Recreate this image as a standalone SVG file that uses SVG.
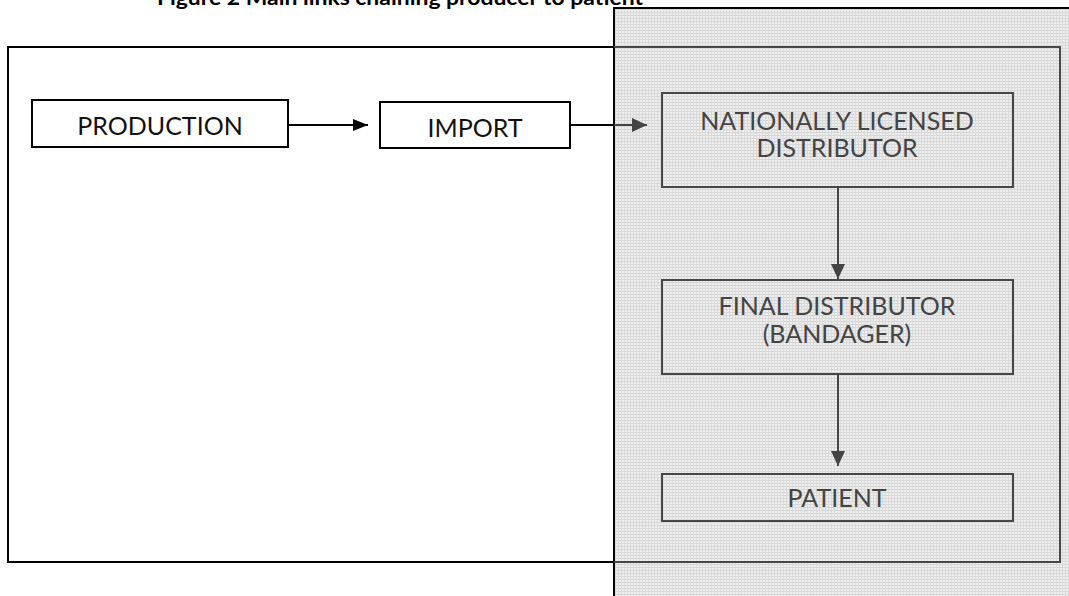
<svg xmlns="http://www.w3.org/2000/svg" width="1069" height="596" viewBox="0 0 1069 596">
<style>
.bk{fill:#fff;stroke:#000;stroke-width:2}
.gb{fill:none;stroke:#474747;stroke-width:2}
.tb{font-family:Lato,"Open Sans",sans-serif;font-size:25px;fill:#111;text-anchor:middle}
.tg{font-family:Lato,"Open Sans",sans-serif;font-size:25px;fill:#444;text-anchor:middle}
.title{font-family:Lato,"Open Sans",sans-serif;font-size:21px;font-weight:bold;fill:#000}
.cb{stroke:#000;stroke-width:2;fill:none}
.cg{stroke:#444;stroke-width:2;fill:none}
</style>
<defs>
<pattern id="dots" width="3" height="3" patternUnits="userSpaceOnUse">
<rect width="3" height="3" fill="#eeeeee"/>
<rect width="3" height="1" fill="#d6d6d6"/>
<rect width="1" height="3" fill="#dadada"/>
</pattern>
<marker id="ab" markerWidth="15" markerHeight="12" refX="15" refY="6" orient="auto" markerUnits="userSpaceOnUse">
<path d="M0,0 L15,6 L0,12 Z" fill="#000"/>
</marker>
<marker id="ag" markerWidth="15" markerHeight="14" refX="15" refY="7" orient="auto" markerUnits="userSpaceOnUse">
<path d="M0,0 L15,7 L0,14 Z" fill="#444"/>
</marker>
</defs>
<rect width="1069" height="596" fill="#fff"/>
<text class="title" x="157" y="5" textLength="486" lengthAdjust="spacingAndGlyphs">Figure 2 Main links chaining producer to patient</text>
<g id="outer">
<rect x="8" y="47" width="1052" height="515" class="bk"/>
</g>
<g id="shade">
<rect x="614" y="8" width="470" height="600" fill="url(#dots)" stroke="#000" stroke-width="2"/>
<path d="M614,47 H1060 V562 H614" class="gb"/>
</g>
<g id="production">
<rect x="32" y="100" width="256" height="47" class="bk"/>
<text class="tb" x="160" y="135">PRODUCTION</text>
</g>
<g id="import">
<rect x="380" y="102" width="190" height="46" class="bk"/>
<text class="tb" x="475" y="137">IMPORT</text>
</g>
<g id="nld">
<rect x="662" y="93" width="351" height="94" class="gb"/>
<text class="tg" x="837" y="130">NATIONALLY LICENSED</text>
<text class="tg" x="837" y="157">DISTRIBUTOR</text>
</g>
<g id="final">
<rect x="662" y="280" width="351" height="94" class="gb"/>
<text class="tg" x="837" y="315">FINAL DISTRIBUTOR</text>
<text class="tg" x="837" y="343">(BANDAGER)</text>
</g>
<g id="patient">
<rect x="662" y="474" width="351" height="47" class="gb"/>
<text class="tg" x="837" y="507">PATIENT</text>
</g>
<g id="connectors">
<path d="M288,125 H368" class="cb" marker-end="url(#ab)"/>
<path d="M570,125 H614" class="cb"/>
<path d="M614,125 H647" class="cg" marker-end="url(#ag)"/>
<path d="M838,187 V279" class="cg" marker-end="url(#ag)"/>
<path d="M838,374 V466" class="cg" marker-end="url(#ag)"/>
</g>
</svg>
